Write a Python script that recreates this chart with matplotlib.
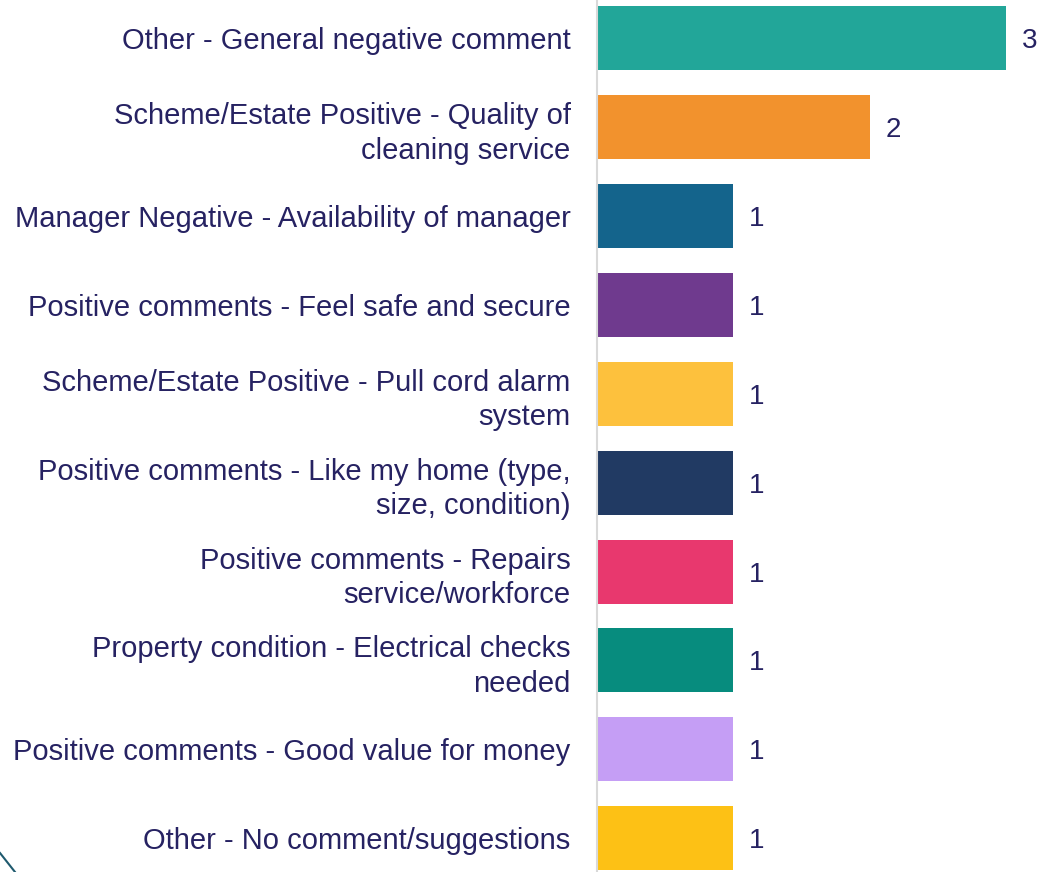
import matplotlib.pyplot as plt
import numpy as np
from matplotlib.lines import Line2D

plt.rcParams['font.family'] = ['Liberation Sans', 'DejaVu Sans']

categories = [
    "Other - General negative comment",
    "Scheme/Estate Positive - Quality of\ncleaning service",
    "Manager Negative - Availability of manager",
    "Positive comments - Feel safe and secure",
    "Scheme/Estate Positive - Pull cord alarm\nsystem",
    "Positive comments - Like my home (type,\nsize, condition)",
    "Positive comments - Repairs\nservice/workforce",
    "Property condition - Electrical checks\nneeded",
    "Positive comments - Good value for money",
    "Other - No comment/suggestions",
]
counts = [3, 2, 1, 1, 1, 1, 1, 1, 1, 1]
colors = ["#22A699", "#F2922D", "#14648C", "#6F3A8E", "#FDC13D",
          "#213A63", "#E8386E", "#078C7E", "#C59EF5", "#FDC115"]

text_color = "#262262"

fig = plt.figure(figsize=(10.43, 8.72), dpi=100)
ax = fig.add_axes([597 / 1043, 0, 1 - 597 / 1043, 1])

y = np.arange(len(categories))
ax.barh(y, counts, height=0.72, color=colors)

for yi, c in zip(y, counts):
    ax.text(c + 0.115, yi, str(c), va='center_baseline', ha='left',
            fontsize=20, color=text_color)

ax.set_yticks(y)
ax.set_yticklabels(categories, fontsize=21, color=text_color,
                   linespacing=1.3)
ax.tick_params(axis='y', length=0, pad=19)
ax.set_xticks([])
ax.set_xlim(0, 3.272)
ax.set_ylim(9.38, -0.43)

for s in ['top', 'right', 'bottom']:
    ax.spines[s].set_visible(False)
ax.spines['left'].set_color('#D9D9D9')
ax.spines['left'].set_linewidth(1.5)

# small decorative stroke in the bottom-left corner
fig.add_artist(Line2D([0, 15 / 1043], [19 / 872, 0], color='#1F5A6E',
                      linewidth=1.5, transform=fig.transFigure))

plt.savefig("out.png", dpi=100)
